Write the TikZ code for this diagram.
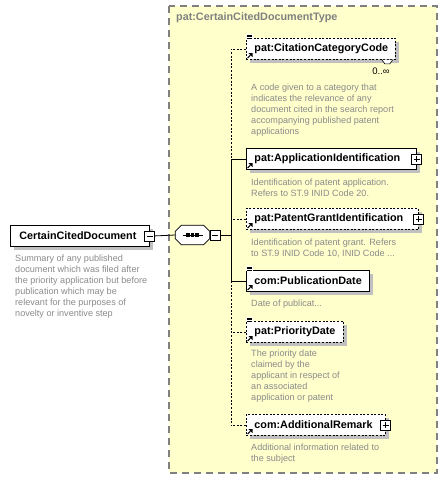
\documentclass[tikz,border=0pt]{standalone}
\usepackage{fontspec}
\setmainfont{Liberation Sans}
\usetikzlibrary{shadows,calc}
\definecolor{bgyel}{HTML}{FFFFCC}
\definecolor{shd}{HTML}{C0C0C0}
\definecolor{dsc}{HTML}{8A8A8A}
\definecolor{frm}{HTML}{808080}
\newcommand\xlinesicon[1]{%
  \fill[white] ($(#1.north west)+(0,-3.8)$) rectangle ++(6.5,5);
  \foreach \d in {-3,-1.2,0.6}{\draw[line width=0.7pt] ($(#1.north west)+(0.5,\d)$) -- ++(5.5,0);}}
\newcommand\xrefarrow[1]{%
  \draw[line width=1pt] ($(#1.south west)+(1.6,-1.8)$) -- ++(2.8,-2.8);
  \fill ($(#1.south west)+(6.6,-6.8)$) -- ++(-4.2,0) -- ++(4.2,4.2) -- cycle;}
\newcommand\xoctpath[1]{($(#1.north west)+(6,0)$) -- ($(#1.north east)+(-6,0)$) -- ($(#1.north east)+(0,6)$) -- ($(#1.south east)+(0,-6)$) -- ($(#1.south east)+(-6,0)$) -- ($(#1.south west)+(6,0)$) -- ($(#1.south west)+(0,-6)$) -- ($(#1.north west)+(0,6)$) -- cycle}
\begin{document}
\begin{tikzpicture}[x=1pt,y=-1pt,
  shdw/.style={drop shadow={shadow xshift=4pt,shadow yshift=-4pt,fill=shd,opacity=1}},
  elem/.style={draw=black,line width=0.8pt,fill=white,anchor=north west,inner xsep=0pt,inner ysep=0pt,
    minimum height=21pt,align=left,font=\bfseries\fontsize{10.8}{12}\selectfont,shdw},
  opt/.style={dash pattern=on 2pt off 1.6pt},
  desc/.style={anchor=north west,inner sep=0pt,align=left,text=dsc,font=\fontsize{9.1}{11}\selectfont},
  conn/.style={line width=0.8pt,draw=black},
  pmbox/.style={draw=black,fill=white,line width=0.7pt,minimum size=10pt,inner sep=0pt},
  minusbox/.style={pmbox,path picture={\draw[line width=0.7pt] ([xshift=2pt]path picture bounding box.west) -- ([xshift=-2pt]path picture bounding box.east);}},
  plusbox/.style={pmbox,path picture={\draw[line width=0.7pt] ([xshift=2pt]path picture bounding box.west) -- ([xshift=-2pt]path picture bounding box.east);
     \draw[line width=0.7pt] ([yshift=2pt]path picture bounding box.south) -- ([yshift=-2pt]path picture bounding box.north);}},
  comp/.style={inner sep=0pt,minimum width=34pt,minimum height=19pt}
]
\useasboundingbox (0,0) rectangle (447,480);
% type frame
\draw[draw=frm,fill=bgyel,line width=1.3pt,dash pattern=on 7pt off 5pt] (169,6) rectangle (437,473);
\node[anchor=west,inner sep=0pt,text=frm,font=\bfseries\fontsize{10.8}{12}\selectfont] (title) at (176,18) {pat:CertainCitedDocumentType};

% root element
\node[elem,text width=139pt] (root) at (10,225) {\hspace*{9pt}CertainCitedDocument};
\node[minusbox] (rootm) at (root.east) {};
\node[desc] (rootd) at (15,254.4) {Summary of any published\\document which was filed after\\the priority application but before\\publication which may be\\relevant for the purposes of\\novelty or inventive step};

% sequence compositor
\node[comp] (seq) at (192.5,235) {};
\fill[shd,shift={(3,3)}] \xoctpath{seq};
\draw[line width=0.8pt,fill=white] \xoctpath{seq};
\draw[line width=0.9pt] ([xshift=-10pt]seq.center) -- ([xshift=10pt]seq.center);
\foreach \dx in {-4.5,0,4.5}{\fill ([xshift=\dx pt]seq.center) ++(-1.6,-1.6) rectangle ++(3.2,3.2);}
\node[minusbox] (seqm) at (215,235) {};
\coordinate (bus) at (231,235);

% children
\node[elem,opt,text width=149pt] (c1) at (246,38) {\hspace*{8pt}pat:CitationCategoryCode};
\node[elem,text width=170pt] (c2) at (246,148) {\hspace*{8pt}pat:ApplicationIdentification};
\node[elem,opt,text width=172pt] (c3) at (246,208) {\hspace*{8pt}pat:PatentGrantIdentification};
\node[elem,text width=123pt] (c4) at (246,270) {\hspace*{8pt}com:PublicationDate};
\node[elem,opt,text width=97pt] (c5) at (246,321) {\hspace*{8pt}pat:PriorityDate};
\node[elem,opt,text width=139pt] (c6) at (246,414) {\hspace*{8pt}com:AdditionalRemark};

\node[plusbox] (p2) at (c2.east) {};
\node[plusbox] (p3) at (c3.east) {};
\node[plusbox] (p6) at (c6.east) {};

\xlinesicon{c1}\xlinesicon{c4}\xlinesicon{c5}
\xrefarrow{c1}\xrefarrow{c2}\xrefarrow{c3}\xrefarrow{c4}\xrefarrow{c5}\xrefarrow{c6}

% repetition marker and multiplicity
\draw[fill=white,line width=0.6pt] ($(c1.south east)+(-14,0)$) -- ++(3,4) -- ++(5,0) -- ++(3,-4);
\node[inner sep=0pt,font=\fontsize{9.5}{10}\selectfont] (m1) at (381,71) {0..∞};

% descriptions
\node[desc] (d1) at (251,83.4) {A code given to a category that\\indicates the relevance of any\\document cited in the search report\\accompanying published patent\\applications};
\node[desc] (d2) at (251,178.4) {Identification of patent application.\\Refers to ST.9 INID Code 20.};
\node[desc] (d3) at (251,238.4) {Identification of patent grant. Refers\\to ST.9 INID Code 10, INID Code ...};
\node[desc] (d4) at (251,299.4) {Date of publicat...};
\node[desc] (d5) at (251,349.4) {The priority date\\claimed by the\\applicant in respect of\\an associated\\application or patent};
\node[desc] (d6) at (251,443.4) {Additional information related to\\the subject};

% connectors
\draw[conn] (rootm.east) -- (seq.west);
\draw[conn] (seqm.east) -- (bus);
\draw[conn,opt] (c1.west) -- (c1.west -| bus) -- (c2.west -| bus);
\draw[conn] (c2.west) -- (c2.west -| bus) -- (c4.west -| bus);
\draw[conn,opt] (c3.west) -- (c3.west -| bus);
\draw[conn] (c4.west) -- (c4.west -| bus);
\draw[conn,opt] (c4.west -| bus) -- (c6.west -| bus);
\draw[conn,opt] (c5.west) -- (c5.west -| bus);
\draw[conn,opt] (c6.west) -- (c6.west -| bus);
\end{tikzpicture}
\end{document}
